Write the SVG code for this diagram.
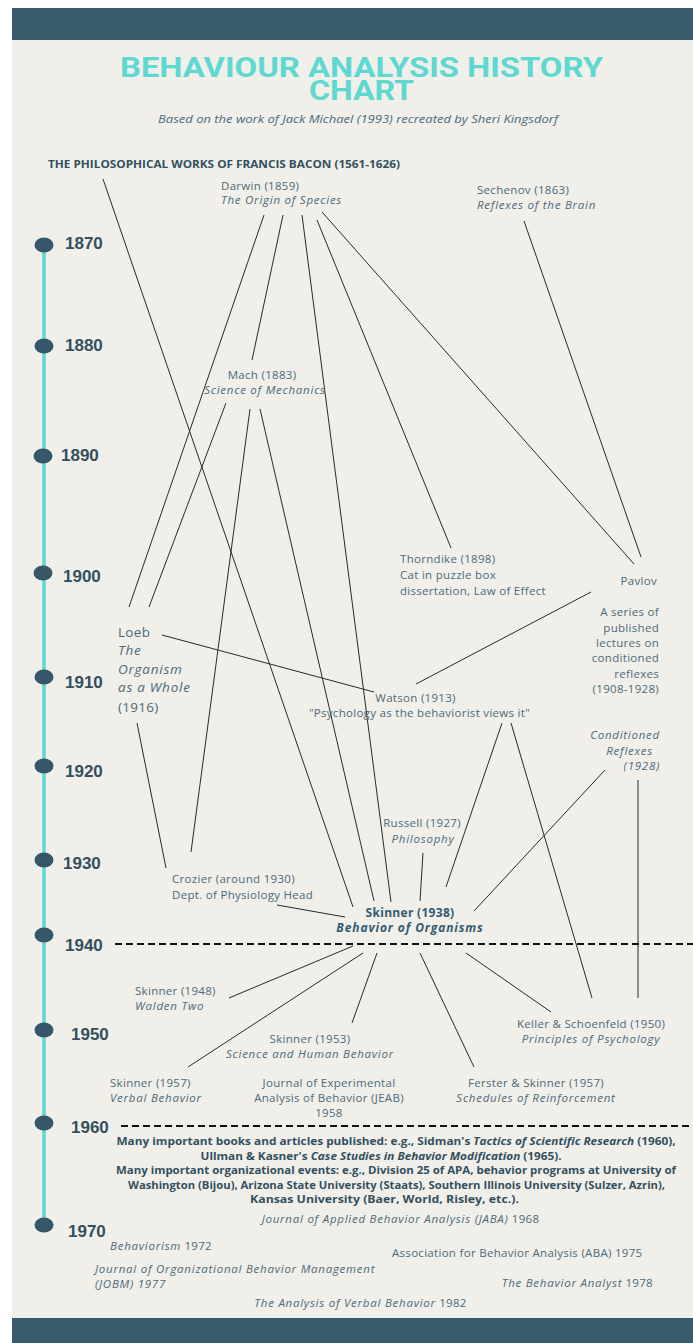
<svg xmlns="http://www.w3.org/2000/svg" width="693" height="1343" viewBox="0 0 693 1343">
<defs>
<style>
.t{font-family:"Open Sans","Liberation Sans",sans-serif;font-size:11.5px;fill:#4d6a79;letter-spacing:0.3px}
.i,.t .it{font-style:italic;letter-spacing:0.75px}
.b{font-weight:bold}
.yr{font-family:"Liberation Sans",Arial,sans-serif;font-weight:bold;font-size:17px;fill:#33505f}
.dot{fill:#36566a}
.c line{stroke:#2a2a2a;stroke-width:1}
.dash{stroke:#111;stroke-width:2;stroke-dasharray:7 4}
.blk{font-family:"Open Sans","Liberation Sans",sans-serif;font-size:10.5px;font-weight:bold;fill:#33505f}
.ttl{font-family:Roboto,"Liberation Sans",sans-serif;font-weight:bold;font-size:27px;fill:#5fd8d2}
</style>
</defs>
<rect x="0" y="0" width="693" height="1343" fill="#ffffff"/>
<rect x="12" y="8" width="681" height="1335" fill="#f0efea"/>
<rect x="12" y="8" width="681" height="32" fill="#375a6c"/>
<rect x="12" y="1318" width="681" height="25" fill="#375a6c"/>

<g id="header">
<text class="ttl" x="361.5" y="77" text-anchor="middle" textLength="483" lengthAdjust="spacingAndGlyphs">BEHAVIOUR ANALYSIS HISTORY</text>
<text class="ttl" x="361.5" y="100" text-anchor="middle" textLength="105" lengthAdjust="spacingAndGlyphs">CHART</text>
<text class="t i" x="358" y="123" text-anchor="middle" textLength="400" lengthAdjust="spacingAndGlyphs" style="font-size:11px;letter-spacing:0">Based on the work of Jack Michael (1993) recreated by Sheri Kingsdorf</text>
</g>

<g id="timeline">
<line x1="44" y1="245" x2="44" y2="1225" stroke="#5fd8d2" stroke-width="3.5"/>
<ellipse class="dot" cx="44" cy="245" rx="9.5" ry="7.5"/>
<ellipse class="dot" cx="44" cy="346" rx="9.5" ry="7.5"/>
<ellipse class="dot" cx="43" cy="456" rx="9.5" ry="7.5"/>
<ellipse class="dot" cx="43" cy="573" rx="9.5" ry="7.5"/>
<ellipse class="dot" cx="44" cy="677" rx="9.5" ry="7.5"/>
<ellipse class="dot" cx="44" cy="766" rx="9.5" ry="7.5"/>
<ellipse class="dot" cx="44" cy="860" rx="9.5" ry="7.5"/>
<ellipse class="dot" cx="44" cy="935" rx="9.5" ry="7.5"/>
<ellipse class="dot" cx="44" cy="1030" rx="9.5" ry="7.5"/>
<ellipse class="dot" cx="44" cy="1123" rx="9.5" ry="7.5"/>
<ellipse class="dot" cx="44" cy="1225" rx="9.5" ry="7.5"/>
<text class="yr" x="65" y="249">1870</text>
<text class="yr" x="65" y="351">1880</text>
<text class="yr" x="61" y="461">1890</text>
<text class="yr" x="63" y="582">1900</text>
<text class="yr" x="65" y="688">1910</text>
<text class="yr" x="65" y="777">1920</text>
<text class="yr" x="63" y="869">1930</text>
<text class="yr" x="65" y="951">1940</text>
<text class="yr" x="71" y="1040">1950</text>
<text class="yr" x="71" y="1133">1960</text>
<text class="yr" x="68" y="1237">1970</text>
<line class="dash" x1="115" y1="944" x2="693" y2="944"/>
<line class="dash" x1="121" y1="1126" x2="693" y2="1126"/>
</g>

<g class="c" id="connectors">
<line x1="103" y1="179" x2="353" y2="907"/>
<line x1="264" y1="215" x2="129" y2="607"/>
<line x1="283" y1="215" x2="252" y2="360"/>
<line x1="302" y1="215" x2="391" y2="902"/>
<line x1="317" y1="220" x2="451" y2="548"/>
<line x1="322" y1="212" x2="634" y2="564"/>
<line x1="524" y1="221" x2="641" y2="557"/>
<line x1="226" y1="403" x2="149" y2="607"/>
<line x1="250" y1="409" x2="191" y2="852"/>
<line x1="260" y1="409" x2="374" y2="901"/>
<line x1="137" y1="723" x2="166" y2="868"/>
<line x1="162" y1="635" x2="374" y2="692"/>
<line x1="591" y1="592" x2="416" y2="684"/>
<line x1="502" y1="723" x2="446" y2="887"/>
<line x1="511" y1="723" x2="592" y2="998"/>
<line x1="605" y1="770" x2="474" y2="911"/>
<line x1="638" y1="780" x2="638" y2="998"/>
<line x1="423" y1="853" x2="420" y2="901"/>
<line x1="277" y1="905" x2="345" y2="917"/>
<line x1="353" y1="946" x2="229" y2="998"/>
<line x1="363" y1="953" x2="188" y2="1067"/>
<line x1="377" y1="953" x2="352" y2="1023"/>
<line x1="420" y1="953" x2="474" y2="1067"/>
<line x1="466" y1="953" x2="551" y2="1012"/>
</g>

<g id="bacon"><text class="t b" x="48" y="168" textLength="352" lengthAdjust="spacingAndGlyphs" style="font-size:11px;fill:#33505f;letter-spacing:0">THE PHILOSOPHICAL WORKS OF FRANCIS BACON (1561-1626)</text></g>
<g id="darwin"><text class="t" x="221" y="190">Darwin (1859)</text><text class="t i" x="221" y="204">The Origin of Species</text></g>
<g id="sechenov"><text class="t" x="477" y="194">Sechenov (1863)</text><text class="t i" x="477" y="209">Reflexes of the Brain</text></g>
<g id="mach"><text class="t" x="262" y="379" text-anchor="middle">Mach (1883)</text><text class="t i" x="265" y="394" text-anchor="middle">Science of Mechanics</text></g>
<g id="thorndike"><text class="t" x="400" y="563">Thorndike (1898)</text><text class="t" x="400" y="579">Cat in puzzle box</text><text class="t" x="400" y="595">dissertation, Law of Effect</text></g>
<g id="pavlov"><text class="t" x="657" y="585" text-anchor="end">Pavlov</text>
<text class="t" text-anchor="end"><tspan x="659" y="616">A series of</tspan><tspan x="659" y="632">published</tspan><tspan x="659" y="647">lectures on</tspan><tspan x="659" y="662">conditioned</tspan><tspan x="659" y="678">reflexes</tspan><tspan x="659" y="693">(1908-1928)</tspan></text></g>
<g id="loeb"><text class="t" style="font-size:13.5px"><tspan x="118" y="637">Loeb</tspan><tspan x="118" y="655" class="it">The</tspan><tspan x="118" y="674" class="it">Organism</tspan><tspan x="118" y="692" class="it">as a Whole</tspan><tspan x="118" y="712">(1916)</tspan></text></g>
<g id="watson"><text class="t" x="415.5" y="702" text-anchor="middle">Watson (1913)</text><text class="t" x="419.5" y="717" text-anchor="middle">"Psychology as the behaviorist views it"</text></g>
<g id="conditioned"><text class="t i" x="660" y="739" text-anchor="end">Conditioned</text><text class="t i" x="653" y="755" text-anchor="end">Reflexes</text><text class="t i" x="660" y="770" text-anchor="end">(1928)</text></g>
<g id="russell"><text class="t" x="422" y="827" text-anchor="middle">Russell (1927)</text><text class="t i" x="423" y="843" text-anchor="middle">Philosophy</text></g>
<g id="crozier"><text class="t" x="172" y="883">Crozier (around 1930)</text><text class="t" x="172" y="899">Dept. of Physiology Head</text></g>
<g id="skinner1938"><text class="t b" x="410" y="917" text-anchor="middle" style="fill:#355a72;font-size:12px">Skinner (1938)</text><text class="t b i" x="410" y="932" text-anchor="middle" style="fill:#355a72;font-size:12px;letter-spacing:0.9px">Behavior of Organisms</text></g>
<g id="skinner1948"><text class="t" x="135" y="995">Skinner (1948)</text><text class="t i" x="135" y="1010">Walden Two</text></g>
<g id="keller"><text class="t" x="591" y="1028" text-anchor="middle">Keller &amp; Schoenfeld (1950)</text><text class="t i" x="591" y="1043" text-anchor="middle">Principles of Psychology</text></g>
<g id="skinner1953"><text class="t" x="310" y="1043" text-anchor="middle">Skinner (1953)</text><text class="t i" x="310" y="1058" text-anchor="middle">Science and Human Behavior</text></g>
<g id="skinner1957"><text class="t" x="110" y="1087">Skinner (1957)</text><text class="t i" x="110" y="1102">Verbal Behavior</text></g>
<g id="jeab"><text class="t" x="329" y="1087" text-anchor="middle">Journal of Experimental</text><text class="t" x="329" y="1102" text-anchor="middle">Analysis of Behavior (JEAB)</text><text class="t" x="329" y="1117" text-anchor="middle">1958</text></g>
<g id="ferster"><text class="t" x="536" y="1087" text-anchor="middle">Ferster &amp; Skinner (1957)</text><text class="t i" x="536" y="1102" text-anchor="middle">Schedules of Reinforcement</text></g>

<g id="summary">
<text class="blk" x="396" y="1145" text-anchor="middle" textLength="559" lengthAdjust="spacingAndGlyphs">Many important books and articles published: e.g., Sidman's <tspan font-style="italic">Tactics of Scientific Research</tspan> (1960),</text>
<text class="blk" x="381" y="1160" text-anchor="middle" textLength="361" lengthAdjust="spacingAndGlyphs">Ullman &amp; Kasner's <tspan font-style="italic">Case Studies in Behavior Modification</tspan> (1965).</text>
<text class="blk" x="396" y="1174" text-anchor="middle" textLength="560" lengthAdjust="spacingAndGlyphs">Many important organizational events: e.g., Division 25 of APA, behavior programs at University of</text>
<text class="blk" x="396.5" y="1189" text-anchor="middle" textLength="537" lengthAdjust="spacingAndGlyphs">Washington (Bijou), Arizona State University (Staats), Southern Illinois University (Sulzer, Azrin),</text>
<text class="blk" x="384.5" y="1203" text-anchor="middle" textLength="269" lengthAdjust="spacingAndGlyphs">Kansas University (Baer, World, Risley, etc.).</text>
</g>
<g id="later">
<text class="t" x="400.5" y="1223" text-anchor="middle"><tspan class="it">Journal of Applied Behavior Analysis (JABA)</tspan> 1968</text>
<text class="t" x="110" y="1250"><tspan class="it">Behaviorism</tspan> 1972</text>
<text class="t" x="392" y="1257">Association for Behavior Analysis (ABA) 1975</text>
<text class="t i" x="95" y="1273">Journal of Organizational Behavior Management</text>
<text class="t i" x="95" y="1288">(JOBM) 1977</text>
<text class="t" x="653" y="1287" text-anchor="end"><tspan class="it">The Behavior Analyst</tspan> 1978</text>
<text class="t" x="360.5" y="1307" text-anchor="middle"><tspan class="it">The Analysis of Verbal Behavior</tspan> 1982</text>
</g>
</svg>
